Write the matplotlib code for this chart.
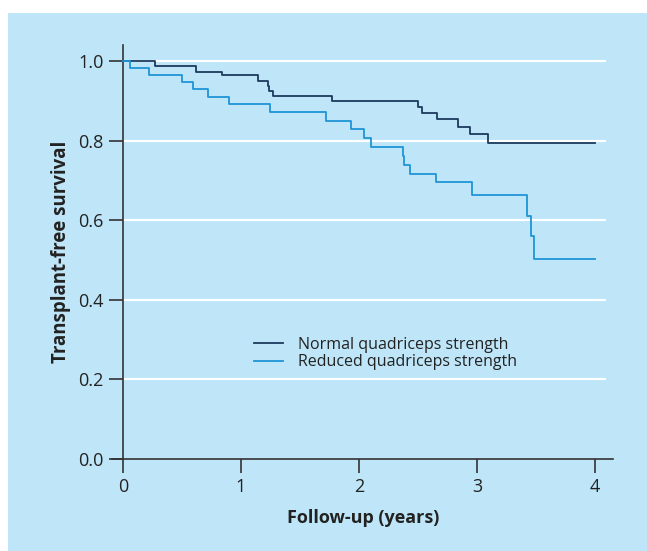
import matplotlib
matplotlib.use("Agg")
import matplotlib.pyplot as plt
from matplotlib.patches import Rectangle

# Kaplan-Meier steps (time in years, survival after the step)
normal_t = [0, 0.27, 0.62, 0.84, 1.14, 1.23, 1.24, 1.27, 1.77, 2.50, 2.53, 2.66, 2.84, 2.94, 3.09, 4.0]
normal_s = [1.0, 0.986, 0.973, 0.964, 0.950, 0.937, 0.925, 0.912, 0.899, 0.883, 0.869, 0.854, 0.835, 0.816, 0.793, 0.793]
reduced_t = [0, 0.06, 0.22, 0.50, 0.59, 0.72, 0.90, 1.25, 1.72, 1.93, 2.04, 2.10, 2.37, 2.38, 2.43,
             2.65, 2.96, 3.42, 3.46, 3.48, 4.0]
reduced_s = [1.0, 0.982, 0.964, 0.947, 0.929, 0.910, 0.891, 0.872, 0.850, 0.828, 0.806, 0.784, 0.761, 0.739, 0.717,
             0.695, 0.663, 0.611, 0.560, 0.502, 0.502]
yticks = [0.0, 0.2, 0.4, 0.6, 0.8, 1.0]
xticks = [0, 1, 2, 3, 4]

bg = "#bfe6f8"
dark = "#1c3a5e"
light = "#1f95d6"
txt = "#222222"
plt.rcParams["font.family"] = ["Open Sans", "DejaVu Sans"]

fig = plt.figure(figsize=(6.47, 5.51), dpi=100)
fig.patches.append(Rectangle((8 / 647, 0), 1, 1 - 13 / 551, transform=fig.transFigure,
                             facecolor=bg, edgecolor="none", zorder=-10))
ax = fig.add_axes([112.4 / 647, 92 / 551, (613 - 112.4) / 647, (459 - 45) / 551])
ax.set_facecolor("none")

for y in yticks[1:]:
    ax.hlines(y, 0, 4.09, color="white", lw=1.5, zorder=1)

ax.step(normal_t, normal_s, where="post", color=dark, lw=1.3, zorder=3,
        label="Normal quadriceps strength")
ax.step(reduced_t, reduced_s, where="post", color=light, lw=1.3, zorder=3,
        label="Reduced quadriceps strength")

ax.set_xlim(-0.09, 4.153)
ax.set_ylim(0, 1.04)
for s in ("top", "right"):
    ax.spines[s].set_visible(False)
ax.spines["left"].set_position(("data", 0))
for s in ("left", "bottom"):
    ax.spines[s].set_color("#333333")
    ax.spines[s].set_linewidth(1.2)
ax.set_xticks(xticks)
ax.set_yticks(yticks)
ax.set_yticklabels([f"{v:.1f}" for v in yticks])
ax.tick_params(direction="out", length=10, width=1.2, color="#333333",
               labelsize=13, labelcolor=txt, pad=4)

ax.set_xlabel("Follow-up (years)", fontsize=13, fontweight="bold", color=txt, labelpad=9)
ax.set_ylabel("Transplant-free survival", fontsize=13.4, fontweight="bold", color=txt)
ax.yaxis.set_label_coords(-0.083, 0.5)

ax.legend(loc="upper left", bbox_to_anchor=(0.255, 0.33), frameon=False, fontsize=11.5,
          handlelength=1.8, handletextpad=0.9, labelspacing=0.1, labelcolor=txt)

fig.savefig("out.png", dpi=100)
